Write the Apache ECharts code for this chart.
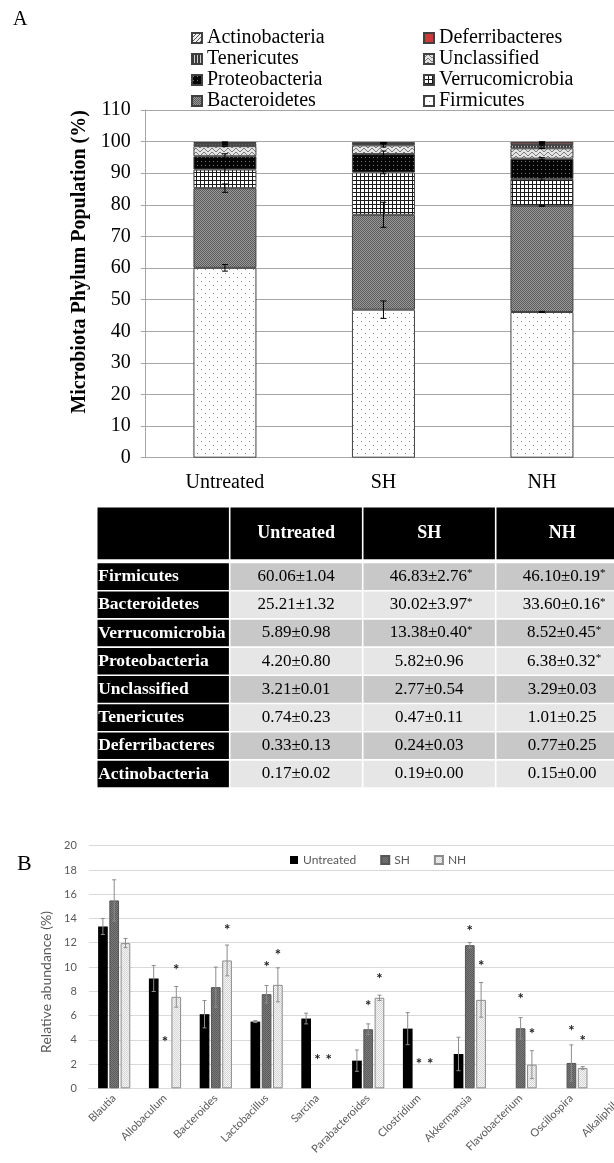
<!DOCTYPE html>
<html><head><meta charset="utf-8">
<script src="https://cdn.jsdelivr.net/npm/echarts@6/dist/echarts.min.js"></script>
<style>html,body{margin:0;padding:0;background:#fff;overflow:hidden;width:614px;height:1163px}#c{width:660px;height:1163px}</style>
</head><body><div id="c"></div>
<script>
// ---------- Panel A data ----------
const groups = ['Untreated', 'SH', 'NH'];
const phyla = ['Firmicutes', 'Bacteroidetes', 'Verrucomicrobia', 'Proteobacteria', 'Unclassified', 'Tenericutes', 'Deferribacteres', 'Actinobacteria'];
const untreatedMean = [60.06, 25.21, 5.89, 4.20, 3.21, 0.74, 0.33, 0.17];
const untreatedSD   = [1.04, 1.32, 0.98, 0.80, 0.01, 0.23, 0.13, 0.02];
const untreatedSig  = [0, 0, 0, 0, 0, 0, 0, 0];
const shMean = [46.83, 30.02, 13.38, 5.82, 2.77, 0.47, 0.24, 0.19];
const shSD   = [2.76, 3.97, 0.40, 0.96, 0.54, 0.11, 0.03, 0.00];
const shSig  = [1, 1, 1, 0, 0, 0, 0, 0];
const nhMean = [46.10, 33.60, 8.52, 6.38, 3.29, 1.01, 0.77, 0.15];
const nhSD   = [0.19, 0.16, 0.45, 0.32, 0.03, 0.25, 0.25, 0.00];
const nhSig  = [1, 1, 1, 1, 0, 0, 0, 0];
const legendLeftCol  = ['Actinobacteria', 'Tenericutes', 'Proteobacteria', 'Bacteroidetes'];
const legendRightCol = ['Deferribacteres', 'Unclassified', 'Verrucomicrobia', 'Firmicutes'];
const tableHeader = ['', 'Untreated', 'SH', 'NH'];

// ---------- Panel B data ----------
const genera = ['Blautia', 'Allobaculum', 'Bacteroides', 'Lactobacillus', 'Sarcina', 'Parabacteroides', 'Clostridium', 'Akkermansia', 'Flavobacterium', 'Oscillospira', 'Alkaliphilus'];
const bUntreated    = [13.34, 9.05, 6.11, 5.50, 5.75, 2.28, 4.92, 2.83, null, null, null];
const bUntreatedErr = [0.66, 1.07, 1.13, 0.08, 0.44, 0.88, 1.32, 1.38, null, null, null];
const bSH    = [15.49, null, 8.34, 7.76, null, 4.87, null, 11.80, 4.95, 2.09, null];
const bSHErr = [1.70, null, 1.65, 0.72, null, 0.44, null, 0.22, 0.88, 1.49, null];
const bNH    = [11.97, 7.54, 10.54, 8.53, null, 7.46, null, 7.29, 1.95, 1.68, null];
const bNHErr = [0.38, 0.85, 1.27, 1.40, null, 0.22, null, 1.43, 1.15, 0.11, null];
const bUntreatedStar = [null, null, null, null, null, null, null, null, null, null, null];
const bSHStar = [null, 4.02, null, 10.26, 2.59, 7.0, 2.2, 13.2, 7.62, 4.95, null];
const bNHStar = [null, 10.0, 13.26, 11.2, 2.59, 9.24, 2.2, 10.3, 4.68, 4.1, null];

// ---------- patterns ----------
function pat(w, h, bg, fg, pts) {
  const c = document.createElement('canvas'); c.width = w; c.height = h;
  const x = c.getContext('2d'); x.fillStyle = bg; x.fillRect(0, 0, w, h);
  x.fillStyle = fg; pts.forEach(p => x.fillRect(p[0], p[1], p[2] || 1, p[3] || 1));
  return { image: c, repeat: 'repeat' };
}
const phylumFill = {
  Firmicutes: pat(8, 8, '#ffffff', '#8a8a8a', [[1, 1], [5, 5]]),
  Bacteroidetes: pat(2, 2, '#9a9a9a', '#5a5a5a', [[0, 0], [1, 1]]),
  Verrucomicrobia: pat(4, 4, '#ffffff', '#1a1a1a', [[0, 0, 4, 1], [0, 0, 1, 4]]),
  Proteobacteria: pat(4, 4, '#050505', '#7a7a7a', [[1, 1]]),
  Unclassified: pat(8, 4, '#e4e4e4', '#7a7a7a', [[0, 3], [1, 2], [2, 1], [3, 0], [4, 0], [5, 1], [6, 2], [7, 3]]),
  Tenericutes: pat(3, 1, '#cfcfcf', '#3a3a3a', [[0, 0, 2, 1]]),
  Deferribacteres: '#c93b3b',
  Actinobacteria: pat(4, 4, '#f0f0f0', '#555555', [[0, 0], [2, 2], [1, 3], [3, 1]])
};
const shFill = pat(2, 2, '#7c7c7c', '#5a5a5a', [[0, 0], [1, 1]]);
const nhFill = pat(2, 2, '#f6f6f6', '#d4d4d4', [[0, 0], [1, 1]]);

const SERIF = 'Liberation Serif';
const SANS = 'Lato';

// ---------- Panel A series ----------
const meanByGroup = [untreatedMean, shMean, nhMean];
const sdByGroup = [untreatedSD, shSD, nhSD];
const sigByGroup = [untreatedSig, shSig, nhSig];
const series = [];
phyla.forEach((p, i) => {
  series.push({
    name: p, type: 'bar', stack: 'phyla', xAxisIndex: 0, yAxisIndex: 0,
    barWidth: 63, data: groups.map((g, gi) => meanByGroup[gi][i]),
    itemStyle: { color: phylumFill[p], borderColor: '#404040', borderWidth: 1 },
    emphasis: { disabled: true }, animation: false
  });
});
const errA = [];
groups.forEach((g, gi) => {
  let cum = 0;
  phyla.forEach((p, i) => { cum += meanByGroup[gi][i]; errA.push([gi, cum, sdByGroup[gi][i]]); });
});
series.push({
  type: 'custom', xAxisIndex: 0, yAxisIndex: 0, z: 10, animation: false, data: errA,
  renderItem(params, api) {
    const top = api.value(1), sd = api.value(2);
    const a = api.coord([api.value(0), top + sd]), b = api.coord([api.value(0), top - sd]);
    const cx = a[0], w = 3, st = { stroke: '#000', lineWidth: 1 };
    return { type: 'group', children: [
      { type: 'line', shape: { x1: cx, y1: a[1], x2: cx, y2: b[1] }, style: st },
      { type: 'line', shape: { x1: cx - w, y1: a[1], x2: cx + w, y2: a[1] }, style: st },
      { type: 'line', shape: { x1: cx - w, y1: b[1], x2: cx + w, y2: b[1] }, style: st }
    ]};
  }
});

// ---------- Table ----------
const headerCells = tableHeader.map((t, c) => [c, 0]);
const bodyCells = [], bodyText = [];
phyla.forEach((p, r) => {
  bodyCells.push([0, r]); bodyText.push({ t: p, s: 0 });
  for (let g = 0; g < 3; g++) {
    bodyCells.push([g + 1, r]);
    bodyText.push({ t: meanByGroup[g][r].toFixed(2) + '±' + sdByGroup[g][r].toFixed(2), s: sigByGroup[g][r] });
  }
});
function cellRect(api) {
  const pt = api.coord([api.value(0), api.value(1)]);
  const sz = api.size([1, 1]);
  return { x: pt[0] - sz[0] / 2, y: pt[1] - sz[1] / 2, w: sz[0], h: sz[1], cx: pt[0], cy: pt[1] };
}
series.push({
  type: 'custom', xAxisIndex: 1, yAxisIndex: 1, animation: false, data: headerCells,
  renderItem(params, api) {
    const r = cellRect(api);
    return { type: 'group', children: [
      { type: 'rect', shape: { x: r.x + 0.8, y: r.y + 0.8, width: r.w - 1.6, height: r.h - 1.6 }, style: { fill: '#000' } },
      { type: 'text', x: r.cx, y: r.cy, style: { text: tableHeader[params.dataIndex], fill: '#fff', font: 'bold 18px ' + SERIF, align: 'center', verticalAlign: 'middle' } }
    ]};
  }
});
series.push({
  type: 'custom', xAxisIndex: 2, yAxisIndex: 2, animation: false, data: bodyCells,
  renderItem(params, api) {
    const r = cellRect(api);
    const c = api.value(0), row = api.value(1);
    const info = bodyText[params.dataIndex];
    const fill = c === 0 ? '#000' : (row % 2 === 0 ? '#c8c8c8' : '#e6e6e6');
    const kids = [{ type: 'rect', shape: { x: r.x + 0.8, y: r.y + 0.8, width: r.w - 1.6, height: r.h - 1.6 }, style: { fill } }];
    if (c === 0) {
      kids.push({ type: 'text', x: r.x + 1.5, y: r.cy, style: { text: info.t, fill: '#fff', font: 'bold 17.5px ' + SERIF, align: 'left', verticalAlign: 'middle' } });
    } else {
      kids.push({ type: 'text', x: r.cx + (info.s ? 2 : 0), y: r.cy, style: {
        text: '{v|' + info.t + '}' + (info.s ? '{s|*}' : ''), align: 'center', verticalAlign: 'middle',
        rich: { v: { fontFamily: SERIF, fontSize: 17, fill: '#000', color: '#000' }, s: { fontFamily: SERIF, fontSize: 11, color: '#000', fill: '#000', verticalAlign: 'top', padding: [0, 0, 6, 0] } }
      } });
    }
    return { type: 'group', children: kids };
  }
});

// ---------- Panel B series ----------
const bVals = [bUntreated, bSH, bNH], bErrs = [bUntreatedErr, bSHErr, bNHErr], bStars = [bUntreatedStar, bSHStar, bNHStar];
const bNames = ['Untreated', 'SH', 'NH'];
const bStyles = [
  { color: '#000000' },
  { color: shFill, borderColor: '#555555', borderWidth: 1 },
  { color: nhFill, borderColor: '#8c8c8c', borderWidth: 1 }
];
const BAR_W = 9.7, BAR_STEP = 11.3;
bNames.forEach((n, g) => {
  series.push({ name: n, type: 'bar', xAxisIndex: 3, yAxisIndex: 3, barWidth: BAR_W, barGap: '16%',
    data: bVals[g], itemStyle: bStyles[g], emphasis: { disabled: true }, animation: false });
});
bNames.forEach((n, g) => {
  const ed = [], sd = [];
  genera.forEach((ge, i) => {
    if (bVals[g][i] != null && bErrs[g][i] != null) ed.push([i, bVals[g][i], bErrs[g][i]]);
    if (bStars[g][i] != null) sd.push([i, bStars[g][i]]);
  });
  const off = (g - 1) * BAR_STEP;
  series.push({ type: 'custom', xAxisIndex: 3, yAxisIndex: 3, z: 10, animation: false, data: ed,
    renderItem(params, api) {
      const v = api.value(1), e = api.value(2);
      const a = api.coord([api.value(0), v + e]), b = api.coord([api.value(0), v - e]);
      const cx = a[0] + off, w = 2, st = { stroke: '#8c8c8c', lineWidth: 1 };
      return { type: 'group', children: [
        { type: 'line', shape: { x1: cx, y1: a[1], x2: cx, y2: b[1] }, style: st },
        { type: 'line', shape: { x1: cx - w, y1: a[1], x2: cx + w, y2: a[1] }, style: st },
        { type: 'line', shape: { x1: cx - w, y1: b[1], x2: cx + w, y2: b[1] }, style: st }
      ]};
    }
  });
  series.push({ type: 'custom', xAxisIndex: 3, yAxisIndex: 3, z: 11, animation: false, data: sd,
    renderItem(params, api) {
      const p = api.coord([api.value(0), api.value(1)]);
      return { type: 'text', x: p[0] + off, y: p[1] + 3, style: { text: '*', font: 'bold 15px ' + SANS, fill: '#222', align: 'center', verticalAlign: 'middle' } };
    }
  });
});

const chart = echarts.init(document.getElementById('c'), null, { renderer: 'canvas' });
chart.setOption({
  backgroundColor: '#fff',
  animation: false,
  graphic: [
    { type: 'text', left: 13, top: 10, style: { text: 'A', font: '20px ' + SERIF, fill: '#000' } },
    { type: 'text', left: 17, top: 853, style: { text: 'B', font: '22px ' + SERIF, fill: '#000' } }
  ],
  legend: [
    { data: legendLeftCol, orient: 'vertical', left: 191, top: 27.5, padding: 0, icon: 'rect', itemWidth: 10, itemHeight: 10, itemGap: 0, selectedMode: false,
      textStyle: { fontFamily: SERIF, fontSize: 20, color: '#000', lineHeight: 21 } },
    { data: legendRightCol, orient: 'vertical', left: 423, top: 27.5, padding: 0, icon: 'rect', itemWidth: 10, itemHeight: 10, itemGap: 0, selectedMode: false,
      textStyle: { fontFamily: SERIF, fontSize: 20, color: '#000', lineHeight: 21 } },
    { data: bNames, orient: 'horizontal', left: 290, top: 854, padding: 0, icon: 'rect', itemWidth: 8, itemHeight: 8, itemGap: 24, selectedMode: false,
      textStyle: { fontFamily: SANS, fontSize: 12, color: '#595959' } }
  ],
  grid: [
    { left: 145.7, top: 110, width: 475.5, height: 347.7 },
    { left: 96.7, top: 506.7, width: 532, height: 53.3 },
    { left: 96.7, top: 562.5, width: 532, height: 225.6 },
    { left: 88.8, top: 845.7, width: 558.8, height: 242.6 }
  ],
  xAxis: [
    { gridIndex: 0, type: 'category', data: groups,
      axisLine: { lineStyle: { color: '#a6a6a6' } }, axisTick: { length: 5, lineStyle: { color: '#a6a6a6' } },
      axisLabel: { fontFamily: SERIF, fontSize: 20, color: '#000', margin: 15 } },
    { gridIndex: 1, type: 'category', data: tableHeader, show: false },
    { gridIndex: 2, type: 'category', data: tableHeader, show: false },
    { gridIndex: 3, type: 'category', data: genera,
      axisLine: { lineStyle: { color: '#d9d9d9' } }, axisTick: { show: false },
      axisLabel: { interval: 0, rotate: 45, fontFamily: SANS, fontSize: 11, color: '#595959', margin: 8 } }
  ],
  yAxis: [
    { gridIndex: 0, type: 'value', min: 0, max: 110, interval: 10,
      name: 'Microbiota Phylum Population (%)', nameLocation: 'middle', nameRotate: 90, nameGap: 52,
      nameTextStyle: { fontFamily: SERIF, fontSize: 20, fontWeight: 'bold', color: '#000', padding: [0, 0, 0, 44] },
      axisLine: { show: true, lineStyle: { color: '#a6a6a6' } }, axisTick: { show: true, length: 5, lineStyle: { color: '#a6a6a6' } },
      axisLabel: { fontFamily: SERIF, fontSize: 20, color: '#000', margin: 15 },
      splitLine: { lineStyle: { color: '#a6a6a6' } } },
    { gridIndex: 1, type: 'category', data: ['header'], show: false, inverse: true },
    { gridIndex: 2, type: 'category', data: phyla, show: false, inverse: true },
    { gridIndex: 3, type: 'value', min: 0, max: 20, interval: 2,
      name: 'Relative abundance (%)', nameLocation: 'middle', nameRotate: 90, nameGap: 33,
      nameTextStyle: { fontFamily: SANS, fontSize: 14, color: '#595959', padding: [0, 30, 0, 0] },
      axisLine: { show: false }, axisTick: { show: false },
      axisLabel: { fontFamily: SANS, fontSize: 11, color: '#595959', margin: 12 },
      splitLine: { lineStyle: { color: '#d9d9d9', width: 1 } } }
  ],
  series
});
</script></body></html>
